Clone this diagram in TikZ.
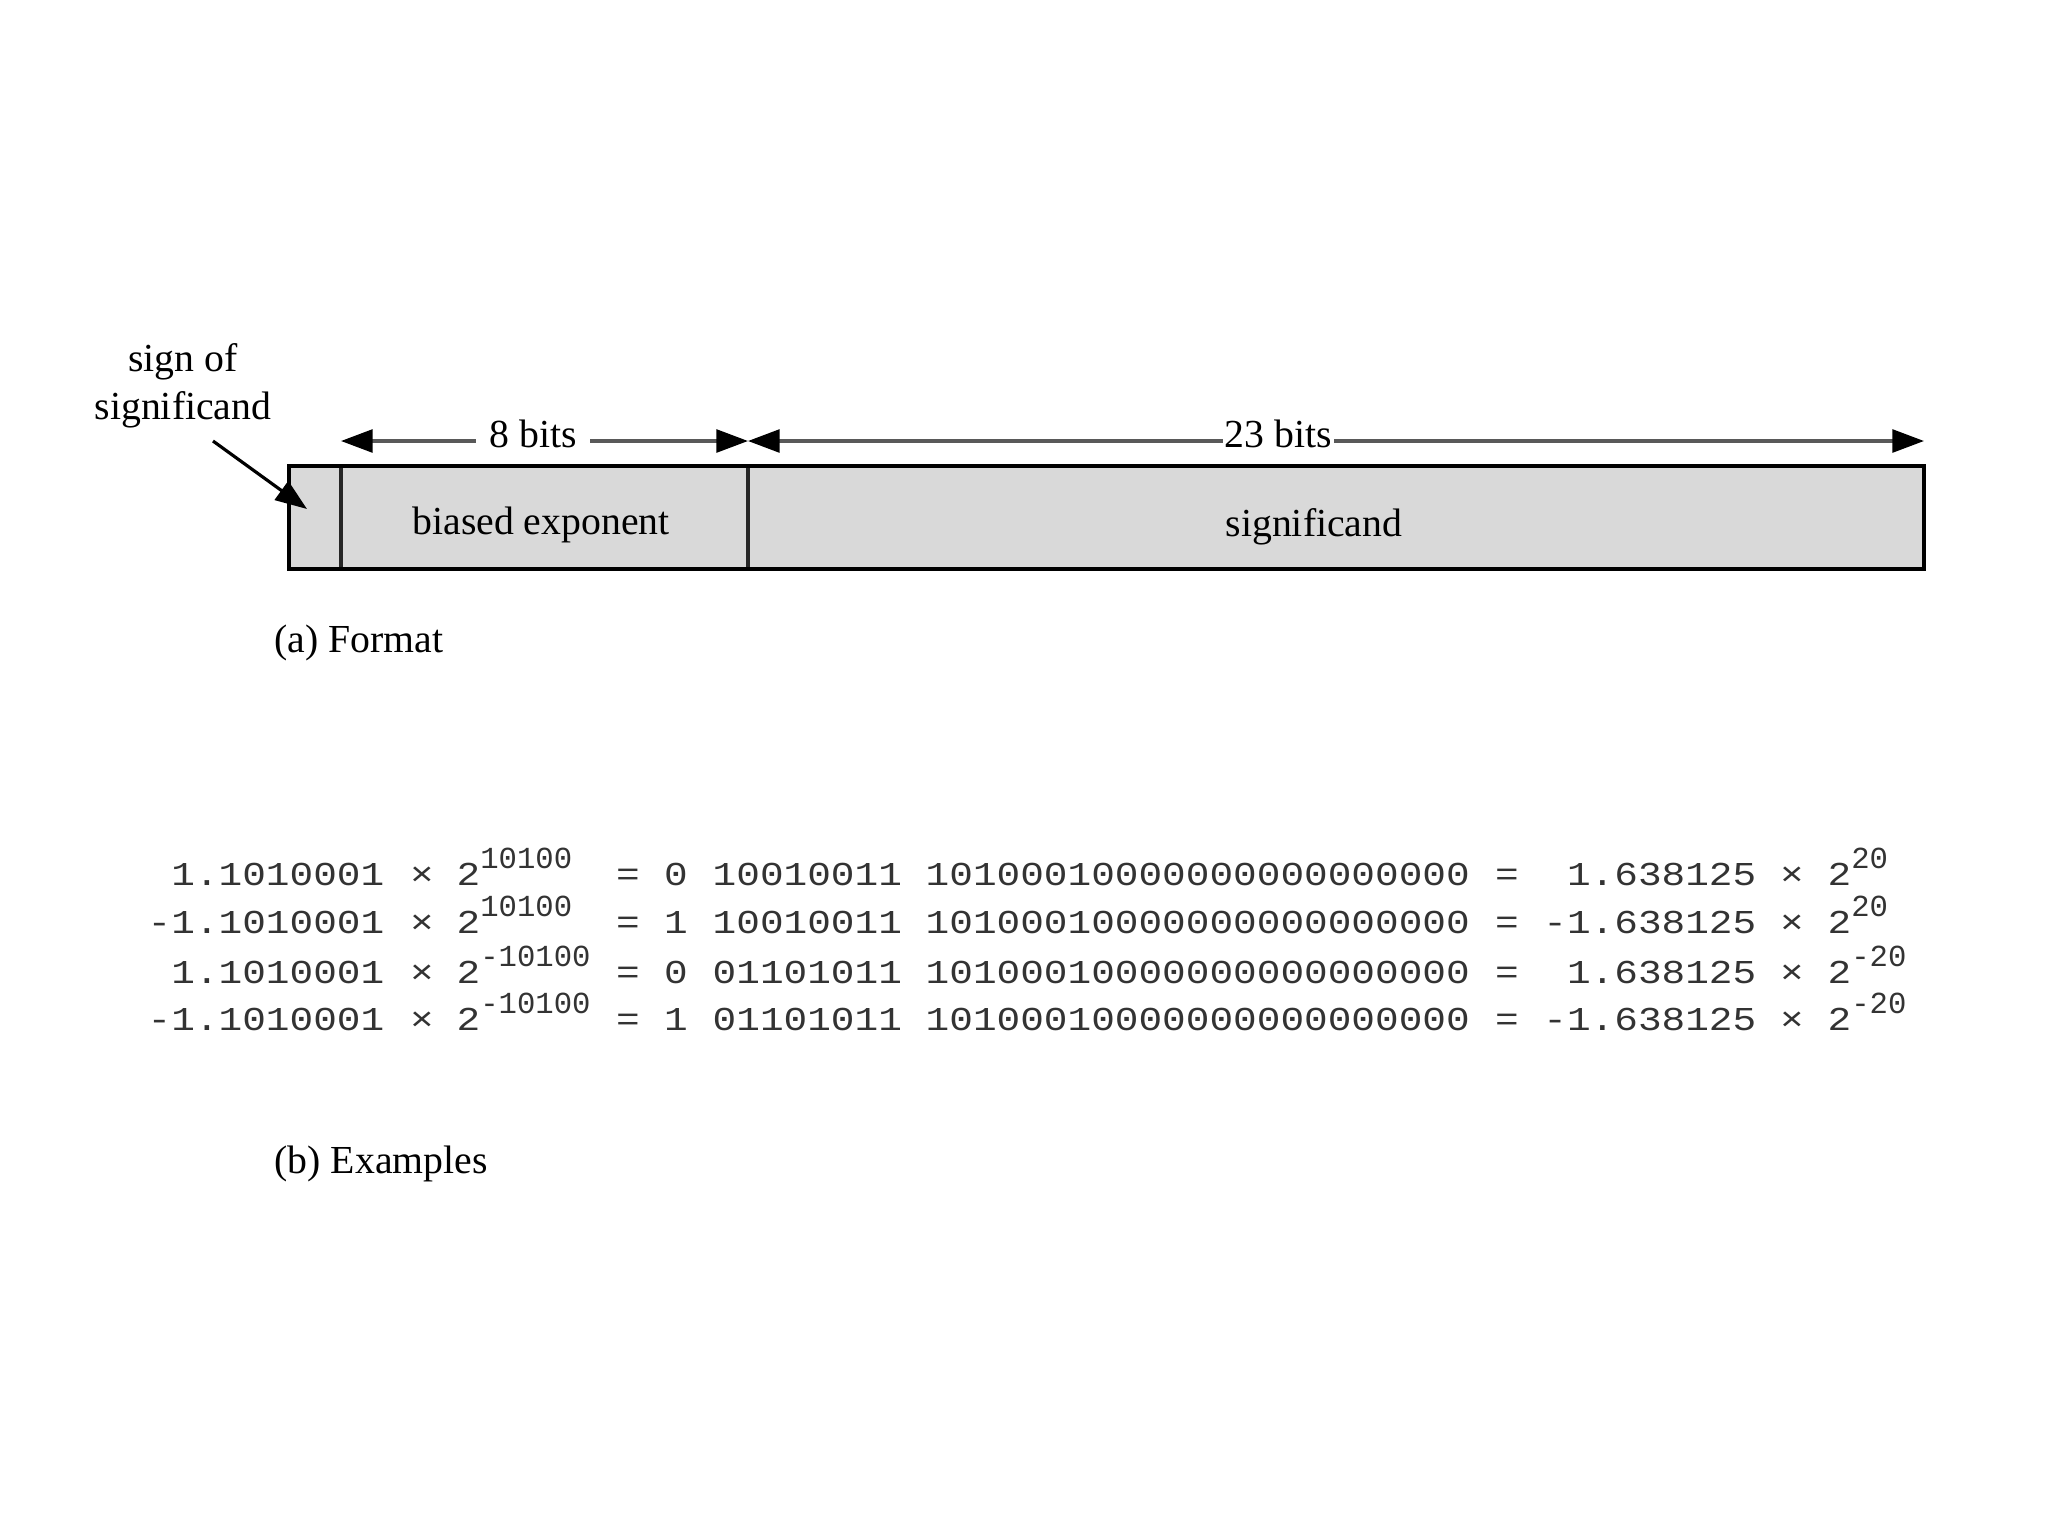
\documentclass[tikz,border=0pt]{standalone}
\usepackage{fontspec}
\setmainfont{Liberation Serif}
\newfontfamily\monof[FakeStretch=1.18]{Liberation Mono}
\newfontfamily\supfam{Liberation Mono}
\usetikzlibrary{arrows.meta}
\newcommand{\supf}{\fontsize{8.7}{9}\supfam}
\begin{document}
\begin{tikzpicture}[x=0.01cm,y=-0.01cm,
  lbl/.style={font=\fontsize{11.3}{13.7}\selectfont, inner sep=0pt},
  mono/.style={font=\fontsize{9.5}{11}\monof, inner sep=0pt, text=black!80},
  frame/.style={draw=black, line width=1.4pt},
  divider/.style={draw=black!85, line width=1.1pt},
  dimline/.style={draw=black!65, line width=0.9pt,
    {Triangle[length=9pt,width=6.5pt,black]}-{Triangle[length=9pt,width=6.5pt,black]}},
  notearrow/.style={draw=black, line width=0.9pt, -{Triangle[length=9pt,width=6.5pt]}}
]
\useasboundingbox (0,0) rectangle (2048,1536);
\fill[white] (0,0) rectangle (2048,1536);

% format box
\fill[gray!30] (289,466) rectangle (1924,569);
\draw[divider] (341,466) -- (341,569);
\draw[divider] (748,466) -- (748,569);
\draw[frame] (289,466) rectangle (1924,569);

\node[lbl] (bexp) at (541,525) {biased exponent};
\node[lbl] (sigf) at (1314,527) {significand};

% dimension lines
\coordinate (e1) at (341,441);
\coordinate (e2) at (748,441);
\coordinate (e3) at (1924,441);
\draw[dimline] (e1) -- node[lbl, pos=0.472, fill=white, inner xsep=3.7pt, inner ysep=1pt, yshift=2pt] (eightbits) {8 bits} (e2);
\draw[dimline] (e2) -- node[lbl, pos=0.451, fill=white, inner xsep=0.5pt, inner ysep=1pt, yshift=2pt] (twentythree) {23 bits} (e3);

% sign note
\node[lbl, align=center] (signnote) at (183,386) {sign of\\significand};
\coordinate (signstart) at (213,441);
\coordinate (signtip) at (307,509);
\draw[notearrow] (signstart) -- (signtip);

\node[lbl, anchor=west] (capa) at (274,643) {(a) Format};

% examples
\foreach \i/\y/\m/\e/\s/\x/\r/\f in {
  1/885/1.1010001/10100/0/10010011/1.638125/20,
  2/933/-1.1010001/10100/1/10010011/-1.638125/20,
  3/983/1.1010001/-10100/0/01101011/1.638125/-20,
  4/1030/-1.1010001/-10100/1/01101011/-1.638125/-20}{
  \node[mono, anchor=base east] (m\i) at (385,\y) {\m};
  \node[mono, anchor=base] (t\i) at (422,\y) {×};
  \node[mono, anchor=base west] (p\i) at (456,\y) {2\raisebox{4.8pt}{\supf\e}};
  \node[mono, anchor=base] (q\i) at (628,\y) {=};
  \node[mono, anchor=base] (s\i) at (676,\y) {\s};
  \node[mono, anchor=base west] (x\i) at (712,\y) {\x};
  \node[mono, anchor=base west] (f\i) at (925,\y) {10100010000000000000000};
  \node[mono, anchor=base] (qq\i) at (1507,\y) {=};
  \node[mono, anchor=base east] (r\i) at (1757,\y) {\r};
  \node[mono, anchor=base] (tt\i) at (1792,\y) {×};
  \node[mono, anchor=base west] (pp\i) at (1827,\y) {2\raisebox{4.8pt}{\supf\f}};
}

\node[lbl, anchor=west] (capb) at (274,1164) {(b) Examples};
\end{tikzpicture}
\end{document}
